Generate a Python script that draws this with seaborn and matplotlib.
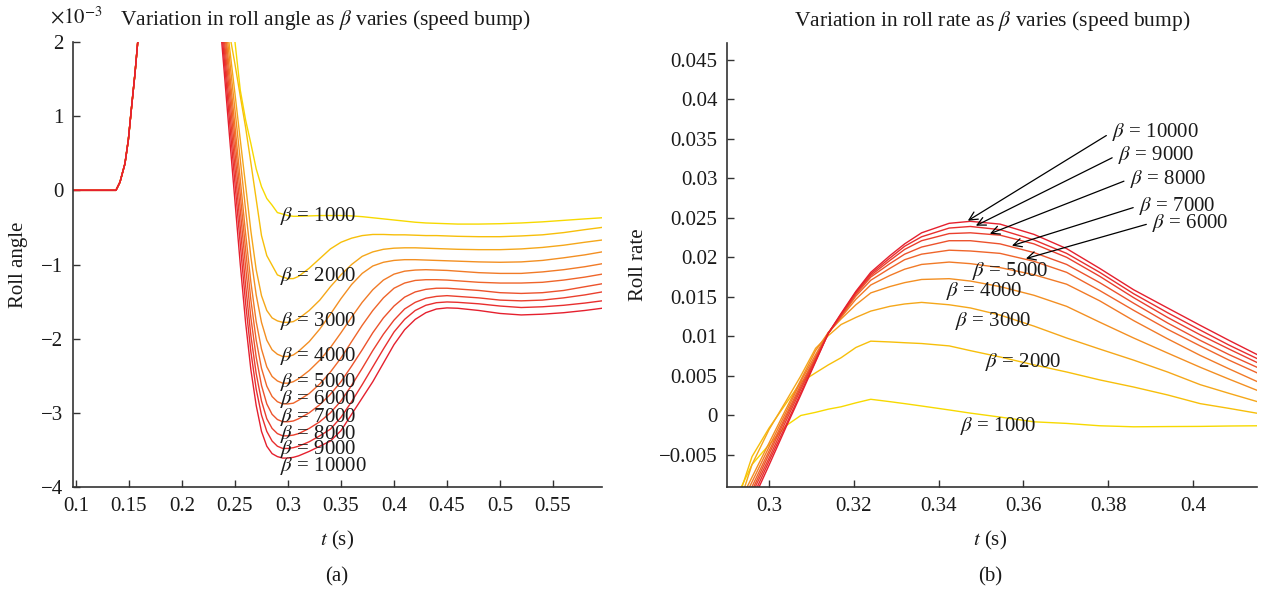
import matplotlib
matplotlib.use("Agg")
import matplotlib.pyplot as plt
from matplotlib.ticker import FuncFormatter
import numpy as np
import pandas as pd
import seaborn as sns

# ---------------- data ----------------
BETAS = [1000, 2000, 3000, 4000, 5000, 6000, 7000, 8000, 9000, 10000]

# roll angle (x1e-3), common initial rise
RISE_T = [0.0972, 0.1377, 0.1415, 0.1462, 0.1494, 0.1525, 0.1557, 0.1582, 0.1650]
RISE_V = [0.0, 0.0, 0.11, 0.36, 0.68, 1.13, 1.58, 1.99, 3.0]

ANGLE_T = [0.200, 0.235, 0.2375, 0.240, 0.245, 0.250, 0.255, 0.260, 0.265, 0.270,
           0.275, 0.280, 0.285, 0.290, 0.295, 0.300, 0.305, 0.310, 0.320, 0.330,
           0.340, 0.350, 0.360, 0.370, 0.380, 0.390, 0.400, 0.410, 0.420, 0.430,
           0.440, 0.450, 0.460, 0.480, 0.500, 0.520, 0.540, 0.560, 0.580, 0.5962]

ANGLE_1000 = [5.0, 3.5, 3.3, 3.0, 2.6, 2.0, 1.35, 0.95, 0.63, 0.29,
              0.05, -0.11, -0.20, -0.30, -0.32, -0.34, -0.35, -0.35, -0.345, -0.34,
              -0.34, -0.34, -0.345, -0.355, -0.37, -0.385, -0.40, -0.415, -0.43, -0.44,
              -0.445, -0.45, -0.455, -0.455, -0.45, -0.44, -0.425, -0.405, -0.385, -0.37]
ANGLE_2000 = [5.0, 3.0, 2.75, 2.5, 2.1, 1.7, 1.27, 0.85, 0.37, -0.12,
              -0.61, -0.88, -1.01, -1.14, -1.17, -1.19, -1.19, -1.16, -1.05, -0.92,
              -0.79, -0.70, -0.645, -0.61, -0.595, -0.595, -0.60, -0.60, -0.605, -0.61,
              -0.61, -0.615, -0.62, -0.625, -0.625, -0.615, -0.60, -0.57, -0.53, -0.50]
ANGLE_3000 = [5.0, 3.15, 2.85, 2.53, 1.91, 1.30, 0.68, 0.07, -0.55, -1.07,
              -1.42, -1.62, -1.72, -1.76, -1.78, -1.78, -1.77, -1.73, -1.62, -1.48,
              -1.30, -1.14, -1.00, -0.89, -0.83, -0.795, -0.78, -0.775, -0.775, -0.78,
              -0.785, -0.79, -0.795, -0.80, -0.80, -0.79, -0.77, -0.74, -0.70, -0.67]
ANGLE_4000 = [5.0, 3.1, 2.75, 2.42, 1.75, 1.08, 0.41, -0.26, -0.90, -1.41,
              -1.78, -2.02, -2.15, -2.21, -2.24, -2.24, -2.22, -2.17, -2.04, -1.87,
              -1.67, -1.46, -1.27, -1.12, -1.02, -0.97, -0.945, -0.935, -0.935, -0.94,
              -0.945, -0.95, -0.955, -0.965, -0.97, -0.965, -0.945, -0.91, -0.87, -0.83]
ANGLE_5000 = [5.0, 3.0, 2.66, 2.30, 1.58, 0.86, 0.14, -0.58, -1.24, -1.77,
              -2.14, -2.38, -2.51, -2.57, -2.60, -2.60, -2.58, -2.54, -2.43, -2.29,
              -2.12, -1.92, -1.71, -1.51, -1.34, -1.21, -1.13, -1.09, -1.075, -1.07,
              -1.075, -1.08, -1.09, -1.11, -1.12, -1.12, -1.10, -1.07, -1.03, -0.99]
ANGLE_6000 = [5.0, 2.92, 2.55, 2.18, 1.43, 0.69, -0.06, -0.80, -1.48, -2.02,
              -2.40, -2.64, -2.78, -2.85, -2.88, -2.88, -2.87, -2.83, -2.74, -2.61,
              -2.45, -2.26, -2.04, -1.82, -1.62, -1.45, -1.32, -1.25, -1.215, -1.205,
              -1.205, -1.21, -1.22, -1.24, -1.25, -1.25, -1.24, -1.21, -1.17, -1.13]
ANGLE_7000 = [5.0, 2.8, 2.41, 2.03, 1.27, 0.50, -0.27, -1.03, -1.72, -2.25,
              -2.63, -2.88, -3.02, -3.09, -3.12, -3.12, -3.11, -3.08, -3.00, -2.89,
              -2.75, -2.58, -2.37, -2.15, -1.92, -1.72, -1.56, -1.44, -1.37, -1.335,
              -1.32, -1.32, -1.33, -1.35, -1.38, -1.39, -1.38, -1.35, -1.30, -1.26]
ANGLE_8000 = [5.0, 2.7, 2.29, 1.89, 1.09, 0.30, -0.50, -1.28, -1.96, -2.47,
              -2.84, -3.08, -3.21, -3.28, -3.31, -3.31, -3.30, -3.28, -3.21, -3.12,
              -3.00, -2.84, -2.63, -2.40, -2.16, -1.94, -1.75, -1.60, -1.51, -1.455,
              -1.43, -1.42, -1.43, -1.45, -1.48, -1.49, -1.48, -1.45, -1.41, -1.37]
ANGLE_9000 = [5.0, 2.56, 2.15, 1.74, 0.91, 0.09, -0.73, -1.52, -2.18, -2.68,
              -3.03, -3.25, -3.38, -3.45, -3.48, -3.48, -3.47, -3.45, -3.39, -3.31,
              -3.22, -3.06, -2.85, -2.62, -2.38, -2.14, -1.91, -1.74, -1.62, -1.55,
              -1.515, -1.505, -1.51, -1.53, -1.56, -1.58, -1.57, -1.55, -1.52, -1.49]
ANGLE_10000 = [5.0, 2.45, 2.0, 1.57, 0.70, -0.15, -1.0, -1.78, -2.42, -2.90,
               -3.25, -3.45, -3.55, -3.59, -3.61, -3.61, -3.60, -3.58, -3.52, -3.45,
               -3.38, -3.24, -3.02, -2.80, -2.58, -2.33, -2.08, -1.88, -1.74, -1.65,
               -1.60, -1.585, -1.59, -1.62, -1.66, -1.68, -1.67, -1.65, -1.62, -1.59]

# roll rate
RATE_T = [0.2920, 0.2960, 0.3000, 0.3040, 0.3075, 0.3110, 0.3140, 0.3170, 0.3205, 0.3240, 0.3285,
          0.3320, 0.3360, 0.3425, 0.3475, 0.3545, 0.3625, 0.3702, 0.3780, 0.3860, 0.3940, 0.4017,
          0.4085, 0.4155]

RATE_1000 = [-0.0107, -0.0062, -0.0037, -0.0013, 0.0000, 0.0004, 0.0008, 0.0011, 0.0016, 0.00205, 0.00175,
             0.0015, 0.0012, 0.0007, 0.0003, -0.0002, -0.0008, -0.0010, -0.0013, -0.00143, -0.0014, -0.00138,
             -0.00133, -0.0013]
RATE_2000 = [-0.0117, -0.0052, -0.0016, 0.0015, 0.0042, 0.0054, 0.0064, 0.0073, 0.0086, 0.0094, 0.0093,
             0.0092, 0.0091, 0.0088, 0.0082, 0.0074, 0.0064, 0.0055, 0.0045, 0.0036, 0.0026, 0.0015,
             0.0009, 0.00025]
RATE_3000 = [-0.0128, -0.0062, -0.0018, 0.0018, 0.0050, 0.0085, 0.0101, 0.0115, 0.0124, 0.0132, 0.0138,
             0.0141, 0.0143, 0.0140, 0.0136, 0.0127, 0.0113, 0.0098, 0.0084, 0.0070, 0.0055, 0.0039,
             0.0028, 0.0017]
RATE_4000 = [-0.0121, -0.0078, -0.0035, 0.0008, 0.0045, 0.0082, 0.0105, 0.0122, 0.0140, 0.0155, 0.0163,
             0.0168, 0.0172, 0.0173, 0.0170, 0.0163, 0.0152, 0.0138, 0.0118, 0.0098, 0.0079, 0.0061,
             0.0046, 0.0031]
RATE_5000 = [-0.0128, -0.0084, -0.0040, 0.0004, 0.0043, 0.0077, 0.0105, 0.0124, 0.0147, 0.0165, 0.0177,
             0.0185, 0.0191, 0.0194, 0.0192, 0.0187, 0.0178, 0.0166, 0.0145, 0.0120, 0.0097, 0.0076,
             0.0059, 0.0042]
RATE_6000 = [-0.0134, -0.0090, -0.0045, 0.0000, 0.0039, 0.0074, 0.0104, 0.0125, 0.0151, 0.0171, 0.0186,
             0.0197, 0.0204, 0.0209, 0.0208, 0.0205, 0.0195, 0.0181, 0.0158, 0.0133, 0.0109, 0.0088,
             0.0070, 0.0053]
RATE_7000 = [-0.0141, -0.0095, -0.0049, -0.0003, 0.0036, 0.0072, 0.0104, 0.0126, 0.0153, 0.0175, 0.0192,
             0.0204, 0.0213, 0.0221, 0.0221, 0.0217, 0.0206, 0.0191, 0.0168, 0.0142, 0.0117, 0.0095,
             0.0077, 0.0060]
RATE_8000 = [-0.0145, -0.0099, -0.0054, -0.0007, 0.0033, 0.0071, 0.0104, 0.0127, 0.0155, 0.0177, 0.0196,
             0.0210, 0.0221, 0.0230, 0.0231, 0.0228, 0.0217, 0.0200, 0.0176, 0.0149, 0.0124, 0.0102,
             0.0084, 0.0066]
RATE_9000 = [-0.0152, -0.0105, -0.0058, -0.0012, 0.0029, 0.0069, 0.0104, 0.0128, 0.0156, 0.0179, 0.0199,
             0.0214, 0.0226, 0.0237, 0.0239, 0.0235, 0.0222, 0.0205, 0.0181, 0.0154, 0.0130, 0.0108,
             0.0089, 0.0071]
RATE_10000 = [-0.0157, -0.0110, -0.0063, -0.0015, 0.0026, 0.0068, 0.0104, 0.0129, 0.0157, 0.0181, 0.0202,
              0.0217, 0.0231, 0.0243, 0.02455, 0.0242, 0.0229, 0.0211, 0.0186, 0.0159, 0.0136, 0.0114,
              0.0095, 0.0076]

ANGLE_TICKS_X = [0.1, 0.15, 0.2, 0.25, 0.3, 0.35, 0.4, 0.45, 0.5, 0.55]
ANGLE_TICKS_Y = [-4, -3, -2, -1, 0, 1, 2]
RATE_TICKS_X = [0.3, 0.32, 0.34, 0.36, 0.38, 0.4]
RATE_TICKS_Y = [-0.005, 0, 0.005, 0.01, 0.015, 0.02, 0.025, 0.03, 0.035, 0.04, 0.045]

# ---------------- style ----------------
COLORS = ["#F7D900", "#F7BF0A", "#F5A71A", "#F38F22", "#F17A27",
          "#EF652A", "#EC522C", "#EA3F2D", "#E82E2E", "#E5202E"]
palette = dict(zip(BETAS, COLORS))

angle_series = [ANGLE_1000, ANGLE_2000, ANGLE_3000, ANGLE_4000, ANGLE_5000,
                ANGLE_6000, ANGLE_7000, ANGLE_8000, ANGLE_9000, ANGLE_10000]
rate_series = [RATE_1000, RATE_2000, RATE_3000, RATE_4000, RATE_5000,
               RATE_6000, RATE_7000, RATE_8000, RATE_9000, RATE_10000]

rowsL = []
for b, vals in zip(BETAS, angle_series):
    for t, v in zip(RISE_T + ANGLE_T, RISE_V + vals):
        rowsL.append((b, t, v))
dfL = pd.DataFrame(rowsL, columns=["beta", "t", "v"])

rowsR = []
for b, vals in zip(BETAS, rate_series):
    for t, v in zip(RATE_T, vals):
        rowsR.append((b, t, v))
dfR = pd.DataFrame(rowsR, columns=["beta", "t", "v"])

sns.set_style("ticks")
plt.rcParams['font.family'] = ['Liberation Serif', 'DejaVu Serif']
plt.rcParams['mathtext.fontset'] = 'stix'
FS = 15
TFS = 15.5
TXT = "#1a1a1a"

W, H = 1262, 593
fig = plt.figure(figsize=(W / 100, H / 100), dpi=100)
axL = fig.add_axes([73 / W, (H - 487) / H, (602 - 73) / W, (487 - 42) / H])
axR = fig.add_axes([727 / W, (H - 487.3) / H, (1257 - 727) / W, (487.3 - 43) / H])

sns.lineplot(data=dfL, x="t", y="v", hue="beta", palette=palette, sort=False,
             estimator=None, legend=False, lw=1.0, ax=axL)
sns.lineplot(data=dfR, x="t", y="v", hue="beta", palette=palette, sort=False,
             estimator=None, legend=False, lw=1.0, ax=axR)

minus = lambda s: s.replace("-", "\u2212")
for ax in (axL, axR):
    sns.despine(ax=ax)
    for sp in ("left", "bottom"):
        ax.spines[sp].set_color("#333333")
        ax.spines[sp].set_linewidth(1.2)
    ax.tick_params(direction="in", length=5, width=1, color="#333333",
                   labelsize=FS, labelcolor=TXT, pad=7)
    ax.xaxis.set_major_formatter(FuncFormatter(lambda x, p: minus("%g" % round(x, 4))))
    ax.yaxis.set_major_formatter(FuncFormatter(lambda x, p: minus("%g" % round(x, 4))))

axL.set_xlim(0.0972, 0.5962)
axL.set_ylim(-4, 2)
axL.set_xticks(ANGLE_TICKS_X)
axL.set_yticks(ANGLE_TICKS_Y)
axR.set_xlim(0.2901, 0.4151)
axR.set_ylim(-0.00908, 0.0471)
axR.set_xticks(RATE_TICKS_X)
axR.set_yticks(RATE_TICKS_Y)

axL.set_title(r"Variation in roll angle as $\beta$ varies (speed bump)", fontsize=TFS,
              color=TXT, pad=12, x=(325 - 73) / 529)
axR.set_title(r"Variation in roll rate as $\beta$ varies (speed bump)", fontsize=TFS,
              color=TXT, pad=12)
axL.set_xlabel(r"$t$ (s)", fontsize=FS, color=TXT)
axR.set_xlabel(r"$t$ (s)", fontsize=FS, color=TXT)
axL.set_ylabel("Roll angle", fontsize=FS, color=TXT)
axR.set_ylabel("Roll rate", fontsize=FS, color=TXT)
axL.xaxis.set_label_coords(0.5, -0.094)
axR.xaxis.set_label_coords(0.496, -0.094)
axL.yaxis.set_label_coords(-0.085, 0.5)
axR.yaxis.set_label_coords(-0.149, 0.5)

fig.text(76 / W, 1 - 18 / H, r"$\times10^{-3}$", fontsize=FS, color=TXT, ha="center", va="center")
fig.text(337 / W, 1 - 577 / H, "(a)", fontsize=FS, color=TXT, ha="center", va="center")
fig.text(990 / W, 1 - 577 / H, "(b)", fontsize=FS, color=TXT, ha="center", va="center")

# left labels
LABEL_Y_L = [-0.35, -1.15, -1.76, -2.23, -2.58, -2.82, -3.05, -3.28, -3.49, -3.72]
for b, y in zip(BETAS, LABEL_Y_L):
    axL.text(0.2925, y, r"$\beta$ = %d" % b, fontsize=FS, color=TXT, ha="left", va="center")

# right plain labels
for b, (x, y) in zip(BETAS[:5], [(0.3451, -0.00134), (0.3510, 0.00673), (0.3439, 0.01189),
                                 (0.3418, 0.01580), (0.3479, 0.01832)]):
    axR.text(x, y, r"$\beta$ = %d" % b, fontsize=FS, color=TXT, ha="left", va="center")

# right arrow labels
ARROWS = [(6000, (0.3606, 0.01984), (0.3904, 0.02438)),
          (7000, (0.3573, 0.02147), (0.3873, 0.02652)),
          (8000, (0.3521, 0.02298), (0.3851, 0.02992)),
          (9000, (0.3488, 0.02400), (0.3823, 0.03295)),
          (10000, (0.3469, 0.02463), (0.3809, 0.03584))]
for b, tip, txt in ARROWS:
    axR.annotate(r"$\beta$ = %d" % b, xy=tip, xytext=txt, fontsize=FS, color=TXT,
                 ha="left", va="center",
                 arrowprops=dict(arrowstyle="->", color="black", lw=0.9,
                                 shrinkA=2, shrinkB=0, relpos=(0, 0.5)))

fig.savefig("out.png", dpi=100)
